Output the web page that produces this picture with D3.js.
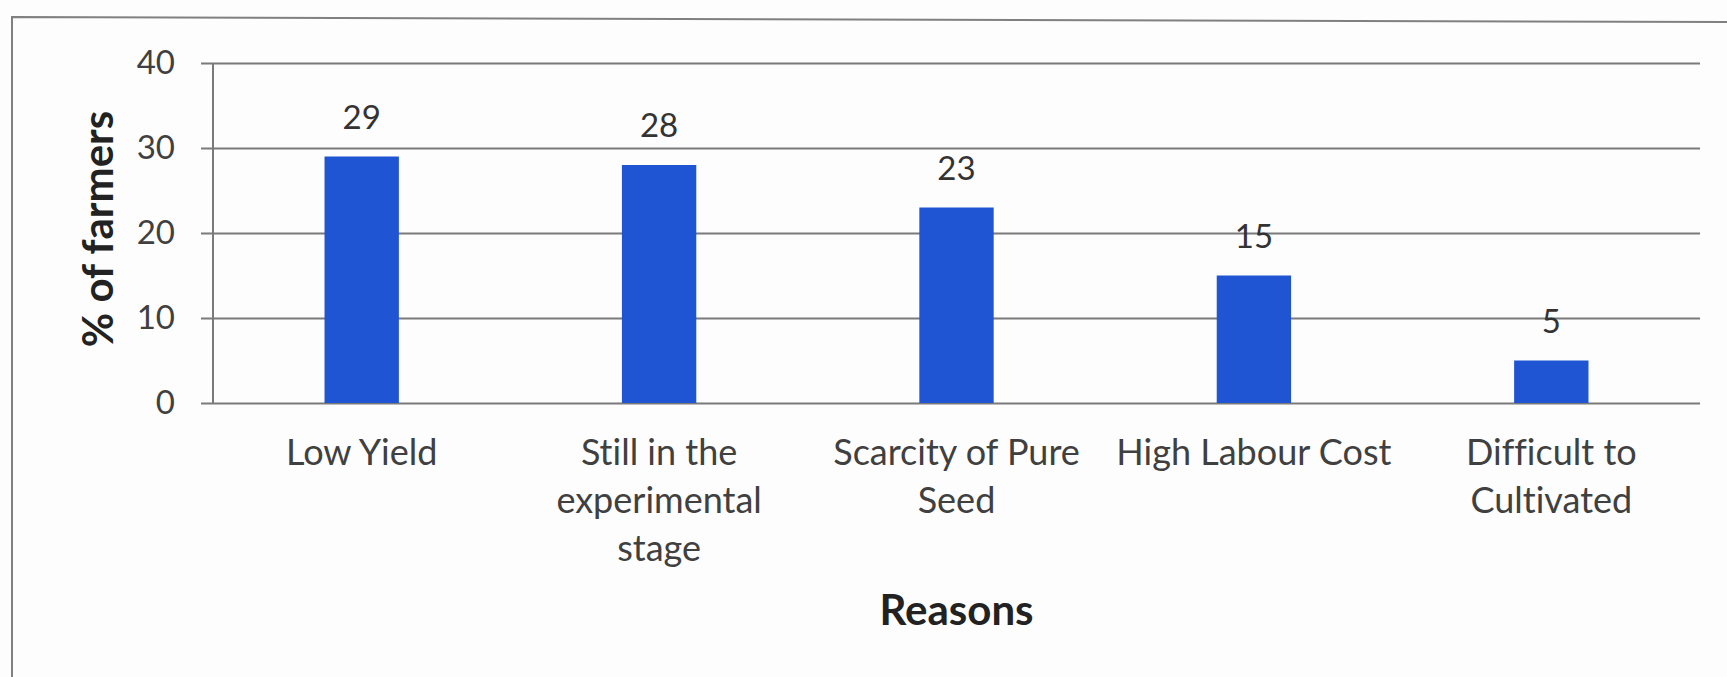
<!DOCTYPE html>
<html>
<head>
<meta charset="utf-8">
<script src="https://cdn.jsdelivr.net/npm/d3@7"></script>
<style>
  body { margin: 0; background: #fdfdfd; }
  text { font-family: Lato, "Open Sans", sans-serif; font-variant-ligatures: none; }
</style>
</head>
<body>
<div id="chart"></div>
<script>
// Chart data
const categories = [
    "Low Yield",
    "Still in the\nexperimental\nstage",
    "Scarcity of Pure\nSeed",
    "High Labour Cost",
    "Difficult to\nCultivated"
];
const farmerShare = [29, 28, 23, 15, 5];
const yTicks = [0, 10, 20, 30, 40];

const pageWidth = 1727;
const pageHeight = 677;
const plot = { left: 213, right: 1700, top: 63, bottom: 403 };

const svg = d3.select("#chart")
    .append("svg")
    .attr("width", pageWidth)
    .attr("height", pageHeight);

// Outer frame (only left and top edges are in view)
svg.append("path")
    .attr("d", `M12,${pageHeight} L12,17 L${pageWidth},22`)
    .attr("fill", "none")
    .attr("stroke", "#808080")
    .attr("stroke-width", 2);

const x = d3.scaleBand()
    .domain(categories)
    .range([plot.left, plot.right])
    .paddingInner(0.75)
    .paddingOuter(0.375);

const y = d3.scaleLinear()
    .domain([0, 40])
    .range([plot.bottom, plot.top]);

// Gridlines + outside tick marks + labels
const yAxis = svg.append("g")
    .attr("transform", `translate(${plot.left - 12},0)`)
    .call(d3.axisLeft(y)
        .tickValues(yTicks)
        .tickSize(-(plot.right - plot.left + 12))
        .tickPadding(26));

yAxis.select(".domain").remove();
yAxis.selectAll(".tick line")
    .attr("stroke", "#7a7a7a")
    .attr("stroke-width", 2);
yAxis.selectAll(".tick text")
    .attr("fill", "#404040")
    .attr("font-size", "33px");

// Vertical axis line
svg.append("line")
    .attr("x1", plot.left)
    .attr("x2", plot.left)
    .attr("y1", plot.top)
    .attr("y2", plot.bottom)
    .attr("stroke", "#7a7a7a")
    .attr("stroke-width", 2);

// Bars
svg.selectAll(".bar")
    .data(farmerShare)
    .enter()
    .append("rect")
    .attr("class", "bar")
    .attr("x", (d, i) => x(categories[i]))
    .attr("y", d => y(d))
    .attr("width", x.bandwidth())
    .attr("height", d => y(0) - y(d))
    .attr("fill", "#1f55d2");

// Value labels
svg.selectAll(".value-label")
    .data(farmerShare)
    .enter()
    .append("text")
    .attr("class", "value-label")
    .attr("x", (d, i) => x(categories[i]) + x.bandwidth() / 2)
    .attr("y", d => y(d) - 28)
    .attr("text-anchor", "middle")
    .attr("fill", "#333")
    .attr("font-size", "33px")
    .text(d => d);

// Category labels, wrapped like the original
const catLabels = svg.selectAll(".cat-label")
    .data(categories)
    .enter()
    .append("text")
    .attr("class", "cat-label")
    .attr("text-anchor", "middle")
    .attr("fill", "#404040")
    .attr("font-size", "36px");

catLabels.selectAll("tspan")
    .data(d => d.split("\n").map(line => ({ line, cat: d })))
    .enter()
    .append("tspan")
    .attr("x", d => x(d.cat) + x.bandwidth() / 2)
    .attr("y", (d, i) => 465 + i * 48)
    .text(d => d.line);

// Axis titles
svg.append("text")
    .attr("x", (plot.left + plot.right) / 2)
    .attr("y", 625)
    .attr("text-anchor", "middle")
    .attr("font-size", "42px")
    .attr("font-weight", "bold")
    .attr("fill", "#222")
    .text("Reasons");

svg.append("text")
    .attr("transform", `translate(113,${(plot.top + plot.bottom) / 2 - 4}) rotate(-90)`)
    .attr("text-anchor", "middle")
    .attr("font-size", "42px")
    .attr("font-weight", "bold")
    .attr("fill", "#222")
    .text("% of farmers");
</script>
</body>
</html>
